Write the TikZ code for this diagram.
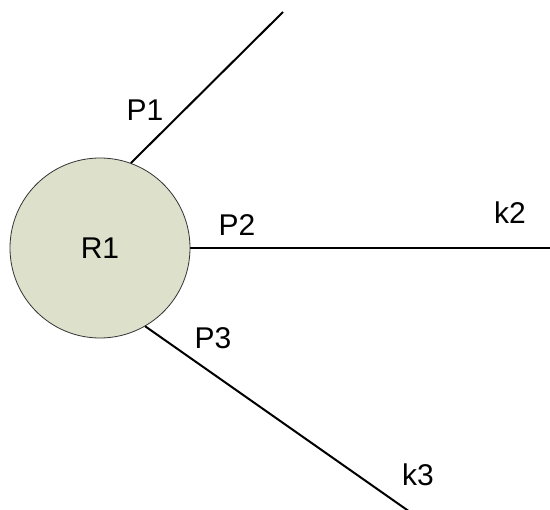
\documentclass[tikz,border=0pt]{standalone}
\usepackage{fontspec}
\setmainfont{Liberation Sans}
\usetikzlibrary{positioning}
\definecolor{routerfill}{RGB}{221,224,203}

\begin{document}
\begin{tikzpicture}[x = 1pt, y = -1pt,
  router/.style = {draw = black!80, fill = routerfill, shape = circle, line width = 0.8pt, minimum size = 180pt, inner sep = 0pt},
  link/.style = {line width = 2pt},
  lbl/.style = {font = \fontsize{30}{35}\selectfont, inner sep = 0pt}]
\useasboundingbox (0,0) rectangle (550,510);
\node[router, font = \fontsize{30}{35}\selectfont] (R1) at (100,248) {R1};
\coordinate (e1) at (283,12);
\coordinate (e2) at (552,248);
\coordinate (e3) at (410,512);
\draw[link] (R1.70) -- (e1);
\draw[link] (R1.east) -- (e2);
\draw[link] (R1.-60) -- (e3);
\node[lbl] (P1) at (145,110) {P1};
\node[lbl] (P2) at (237,225) {P2};
\node[lbl] (k2) at (510,213) {k2};
\node[lbl] (P3) at (213,338) {P3};
\node[lbl] (k3) at (418,475) {k3};
\end{tikzpicture}
\end{document}
